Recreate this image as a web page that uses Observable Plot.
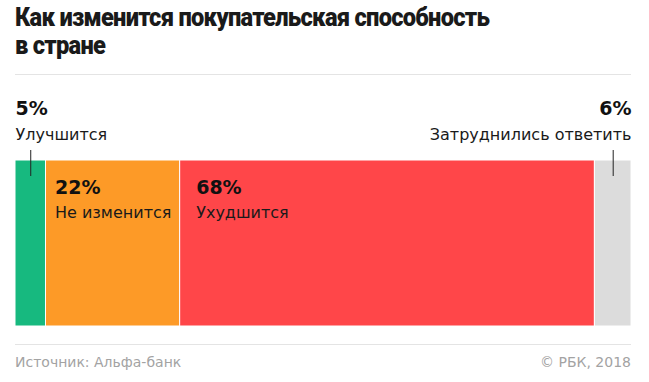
<!DOCTYPE html>
<html><head><meta charset="utf-8">
<script src="https://cdn.jsdelivr.net/npm/d3@7"></script>
<script src="https://cdn.jsdelivr.net/npm/@observablehq/plot@0.6"></script>
<style>
body{margin:0;background:#fff;font-family:"DejaVu Sans",sans-serif;}
#wrap{position:relative;width:649px;height:382px;overflow:hidden;}
#title{position:absolute;left:15px;top:3px;width:700px;white-space:nowrap;font-family:Roboto,sans-serif;font-weight:900;font-size:26px;line-height:28px;letter-spacing:-0.8px;color:#1a1a1a;transform:scaleX(0.91);transform-origin:0 0;}
#title div{height:28px;}
.rule{position:absolute;left:15px;width:616px;height:1px;background:#e4e4e4;}
#chart{position:absolute;left:0;top:75px;}
.foot{position:absolute;top:355px;font-size:14px;line-height:14px;color:#a3a3a3;}
</style></head>
<body>
<div id="wrap">
  <div id="title"><div>Как изменится покупательская способность</div><div>в стране</div></div>
  <div class="rule" style="top:74px"></div>
  <div id="chart"></div>
  <div class="rule" style="top:344px"></div>
  <div class="foot" style="left:15px">Источник: Альфа-банк</div>
  <div class="foot" style="right:18px">© РБК, 2018</div>
</div>
<script>
const categories = ["Улучшится", "Не изменится", "Ухудшится", "Затруднились ответить"];
const values = [5, 22, 68, 6];
const colors = ["#17b97f", "#fd9a27", "#ff4649", "#dcdcdc"];

const ends = d3.cumsum(values);
const rows = categories.map((c, i) => ({
  category: c, value: values[i], pct: values[i] + "%",
  x1: ends[i] - values[i], x2: ends[i], mid: ends[i] - values[i] / 2
}));
const total = d3.sum(values);
const first = rows.slice(0, 1);
const last = rows.slice(-1);
const second = rows.slice(1, 2);
const third = rows.slice(2, 3);
const outside = [...first, ...last];

const H = 265, mt = 85, mb = 14;
const frameH = H - mt - mb;
const font = "'DejaVu Sans', sans-serif";

const label = (data, xKey, anchor, dx, dyPct, dyCat) => [
  Plot.text(data, {x: xKey, text: "pct", frameAnchor: "top", textAnchor: anchor, dx, dy: dyPct, lineAnchor: "bottom", fontSize: 19, fontWeight: 700, fill: "#111"}),
  Plot.text(data, {x: xKey, text: "category", frameAnchor: "top", textAnchor: anchor, dx, dy: dyCat, lineAnchor: "bottom", fontSize: 16, fill: "#1a1a1a"})
];

const plot = Plot.plot({
  width: 649, height: H,
  marginLeft: 15, marginRight: 18, marginTop: mt, marginBottom: mb,
  x: {domain: [0, total], axis: null},
  y: {axis: null},
  color: {domain: categories, range: colors},
  style: {fontFamily: font, color: "#111"},
  marks: [
    Plot.rectX(rows, {x1: "x1", x2: "x2", fill: "category", stroke: "white", strokeWidth: 1}),
    Plot.ruleX(outside, {x: "mid", stroke: "#222", strokeWidth: 1, insetTop: -10, insetBottom: frameH - 16}),
    ...label(second, "x1", "start", 9, 33, 57),
    ...label(third, "x1", "start", 16, 33, 57),
    ...label(first, "x1", "start", 0, -46, -21),
    ...label(last, "x2", "end", 0, -46, -21)
  ]
});
document.getElementById("chart").appendChild(plot);
</script>
</body></html>
